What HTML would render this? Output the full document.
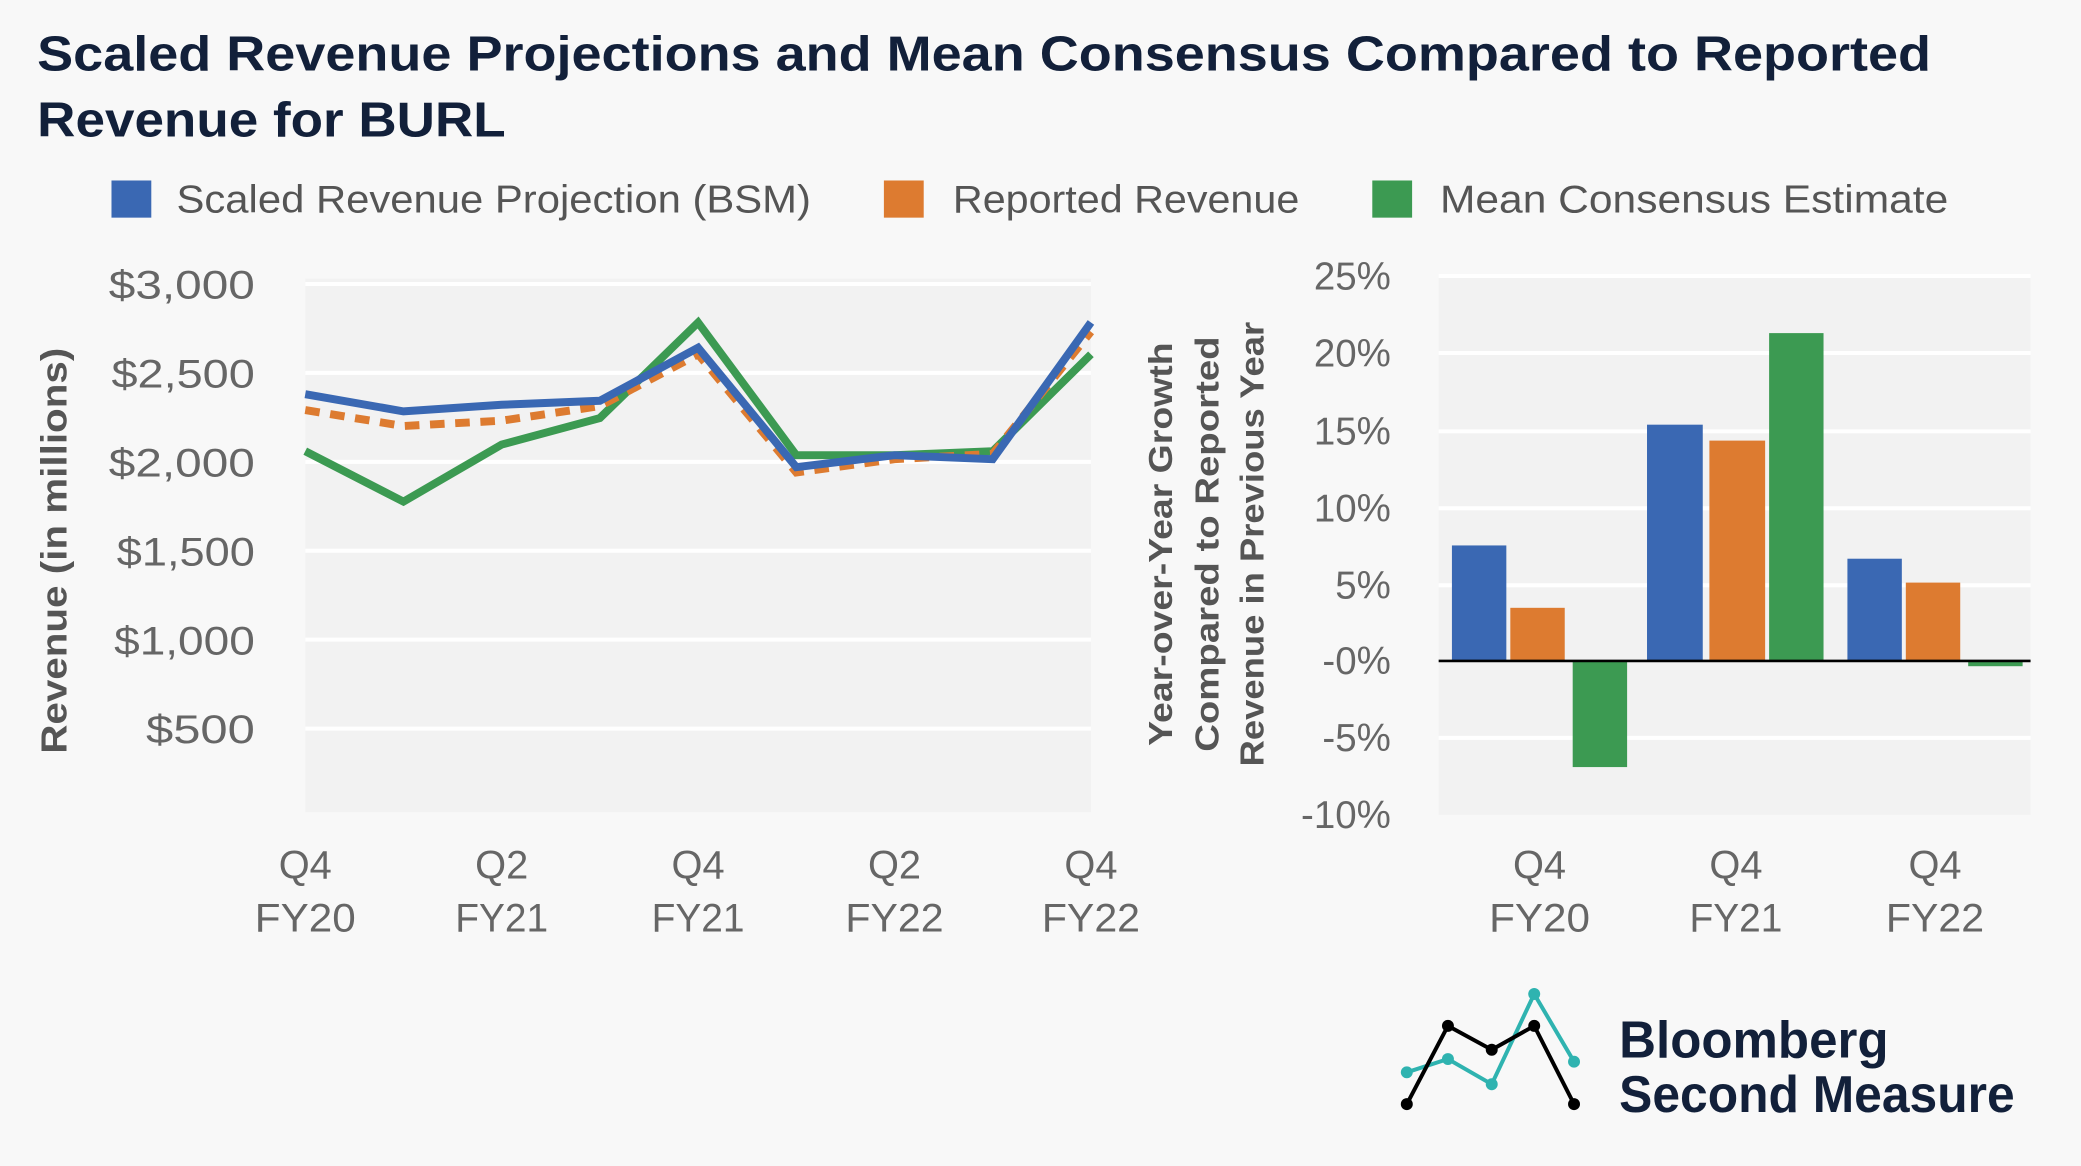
<!DOCTYPE html>
<html><head><meta charset="utf-8"><style>
html,body{margin:0;padding:0;background:#f8f8f8;}
svg{display:block;font-family:"Liberation Sans",sans-serif;}
</style></head><body>
<svg width="2081" height="1166" viewBox="0 0 1568 878.6" preserveAspectRatio="none">
<rect width="1568" height="879" fill="#f8f8f8"/>
<g font-weight="bold" fill="#12203a" font-size="37">
<text x="28" y="53" textLength="1427" lengthAdjust="spacingAndGlyphs">Scaled Revenue Projections and Mean Consensus Compared to Reported</text>
<text x="28" y="103" textLength="353" lengthAdjust="spacingAndGlyphs">Revenue for BURL</text>
</g>
<g font-size="29" fill="#555">
<rect x="84" y="136" width="30" height="28" fill="#3a68b3"/><text x="133" y="160" textLength="478" lengthAdjust="spacingAndGlyphs">Scaled Revenue Projection (BSM)</text>
<rect x="666" y="136" width="30" height="28" fill="#dd7b30"/><text x="718" y="160" textLength="261" lengthAdjust="spacingAndGlyphs">Reported Revenue</text>
<rect x="1034" y="136" width="30" height="28" fill="#3c9a52"/><text x="1085" y="160" textLength="383" lengthAdjust="spacingAndGlyphs">Mean Consensus Estimate</text>
</g>
<!-- left chart -->
<rect x="230" y="210" width="592" height="402" fill="#f2f2f2"/>
<g stroke="#fff" stroke-width="3">
<line x1="230" x2="822" y1="214" y2="214"/><line x1="230" x2="822" y1="281" y2="281"/>
<line x1="230" x2="822" y1="348" y2="348"/><line x1="230" x2="822" y1="415" y2="415"/>
<line x1="230" x2="822" y1="482" y2="482"/><line x1="230" x2="822" y1="549" y2="549"/>
</g>
<g font-size="30" fill="#666" text-anchor="end">
<text x="192" y="225" textLength="110" lengthAdjust="spacingAndGlyphs">$3,000</text>
<text x="192" y="292" textLength="108" lengthAdjust="spacingAndGlyphs">$2,500</text>
<text x="192" y="359" textLength="110" lengthAdjust="spacingAndGlyphs">$2,000</text>
<text x="192" y="426" textLength="104" lengthAdjust="spacingAndGlyphs">$1,500</text>
<text x="192" y="493" textLength="106" lengthAdjust="spacingAndGlyphs">$1,000</text>
<text x="192" y="560" textLength="82" lengthAdjust="spacingAndGlyphs">$500</text>
</g>
<text transform="translate(50,415) rotate(-90)" text-anchor="middle" font-size="27" font-weight="bold" fill="#555" textLength="306" lengthAdjust="spacingAndGlyphs">Revenue (in millions)</text>
<g font-size="30" fill="#666" text-anchor="middle">
<text x="230" y="662">Q4</text><text x="230" y="702" textLength="76" lengthAdjust="spacingAndGlyphs">FY20</text>
<text x="378" y="662">Q2</text><text x="378" y="702" textLength="70" lengthAdjust="spacingAndGlyphs">FY21</text>
<text x="526" y="662">Q4</text><text x="526" y="702" textLength="70" lengthAdjust="spacingAndGlyphs">FY21</text>
<text x="674" y="662">Q2</text><text x="674" y="702" textLength="74" lengthAdjust="spacingAndGlyphs">FY22</text>
<text x="822" y="662">Q4</text><text x="822" y="702" textLength="74" lengthAdjust="spacingAndGlyphs">FY22</text>
</g>
<g fill="none" stroke-width="6" stroke-linejoin="miter">
<polyline stroke="#3c9a52" points="230,340 304,378 378,335 452,315 526,243 600,343 674,343 748,340 822,267"/>
<polyline stroke="#dd7b30" stroke-dasharray="11,8" points="230,309 304,321 378,317 452,306 526,267 600,356 674,346 748,342 822,250"/>
<polyline stroke="#3a68b3" points="230,297 304,310 378,305 452,302 526,262 600,352 674,343 748,346 822,243"/>
</g>
<!-- right chart -->
<rect x="1084" y="208" width="446" height="406" fill="#f2f2f2"/>
<g stroke="#fff" stroke-width="3">
<line x1="1084" x2="1530" y1="208" y2="208"/><line x1="1084" x2="1530" y1="266" y2="266"/>
<line x1="1084" x2="1530" y1="325" y2="325"/><line x1="1084" x2="1530" y1="383" y2="383"/>
<line x1="1084" x2="1530" y1="441" y2="441"/><line x1="1084" x2="1530" y1="556" y2="556"/>
</g>
<g font-size="29" fill="#666" text-anchor="end">
<text x="1048" y="218">25%</text><text x="1048" y="276">20%</text><text x="1048" y="335">15%</text>
<text x="1048" y="393">10%</text><text x="1048" y="451">5%</text><text x="1048" y="508">-0%</text>
<text x="1048" y="566">-5%</text><text x="1048" y="624">-10%</text>
</g>
<g font-size="25" font-weight="bold" fill="#555" text-anchor="middle">
<text transform="translate(883,410) rotate(-90)" textLength="304" lengthAdjust="spacingAndGlyphs">Year-over-Year Growth</text>
<text transform="translate(918,410) rotate(-90)" textLength="313" lengthAdjust="spacingAndGlyphs">Compared to Reported</text>
<text transform="translate(952,410) rotate(-90)" textLength="335" lengthAdjust="spacingAndGlyphs">Revenue in Previous Year</text>
</g>
<rect x="1094" y="411" width="41" height="87" fill="#3a68b3"/>
<rect x="1138" y="458" width="41" height="40" fill="#dd7b30"/>
<rect x="1185" y="498" width="41" height="80" fill="#3c9a52"/>
<rect x="1241" y="320" width="42" height="178" fill="#3a68b3"/>
<rect x="1288" y="332" width="42" height="166" fill="#dd7b30"/>
<rect x="1333" y="251" width="41" height="247" fill="#3c9a52"/>
<rect x="1392" y="421" width="41" height="77" fill="#3a68b3"/>
<rect x="1436" y="439" width="41" height="59" fill="#dd7b30"/>
<rect x="1483" y="498" width="41" height="4" fill="#3c9a52"/>
<line x1="1084" x2="1530" y1="498" y2="498" stroke="#000" stroke-width="2"/>
<g font-size="30" fill="#666" text-anchor="middle">
<text x="1160" y="662">Q4</text><text x="1160" y="702" textLength="76" lengthAdjust="spacingAndGlyphs">FY20</text>
<text x="1308" y="662">Q4</text><text x="1308" y="702" textLength="70" lengthAdjust="spacingAndGlyphs">FY21</text>
<text x="1458" y="662">Q4</text><text x="1458" y="702" textLength="74" lengthAdjust="spacingAndGlyphs">FY22</text>
</g>
<!-- logo -->
<polyline fill="none" stroke="#2fb3b0" stroke-width="3" points="1060,808 1091,798 1124,817 1156,749 1186,800"/>
<polyline fill="none" stroke="#000" stroke-width="3" points="1060,832 1091,773 1124,791 1156,773 1186,832"/>
<g fill="#2fb3b0"><circle cx="1060" cy="808" r="4.5"/><circle cx="1091" cy="798" r="4.5"/><circle cx="1124" cy="817" r="4.5"/><circle cx="1156" cy="749" r="4.5"/><circle cx="1186" cy="800" r="4.5"/></g>
<g fill="#000"><circle cx="1060" cy="832" r="4.5"/><circle cx="1091" cy="773" r="4.5"/><circle cx="1124" cy="791" r="4.5"/><circle cx="1156" cy="773" r="4.5"/><circle cx="1186" cy="832" r="4.5"/></g>
<g font-size="39" fill="#12203a" font-weight="bold">
<text x="1220" y="797" textLength="203" lengthAdjust="spacingAndGlyphs">Bloomberg</text>
<text x="1220" y="838" textLength="298" lengthAdjust="spacingAndGlyphs">Second Measure</text>
</g>
</svg>
</body></html>
